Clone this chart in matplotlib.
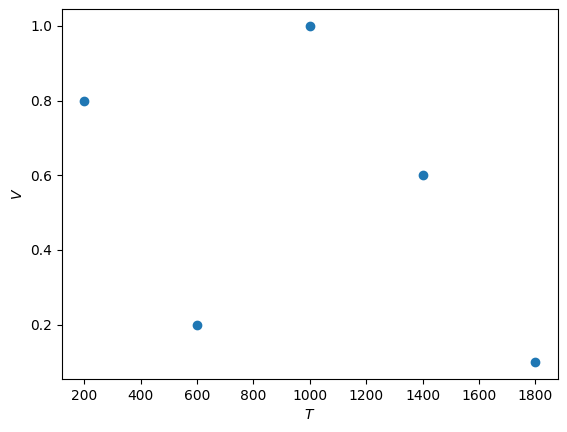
import matplotlib
matplotlib.use("Agg")
import matplotlib.pyplot as plt

T = [200, 600, 1000, 1400, 1800]
V = [0.8, 0.2, 1.0, 0.6, 0.1]

fig = plt.figure(figsize=(5.67, 4.32), dpi=100)
ax = fig.add_axes([0.109, 0.123, 0.875, 0.856])
ax.scatter(T, V)
ax.set_xlabel(r'$T$')
ax.set_ylabel(r'$V$')
fig.savefig('out.png', dpi=100)
